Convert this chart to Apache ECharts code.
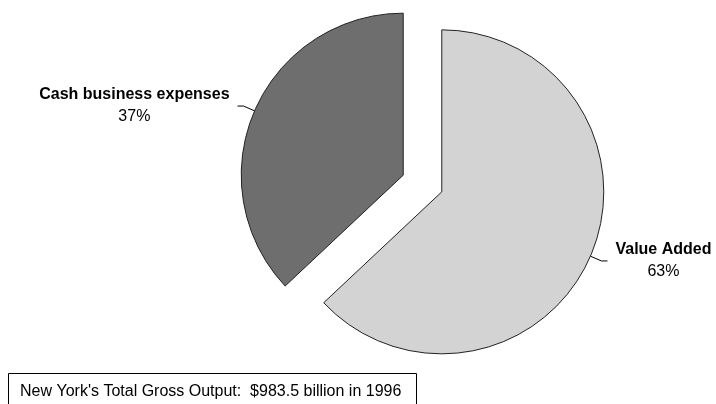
<!DOCTYPE html>
<html>
<head>
<meta charset="utf-8">
<script src="https://cdn.jsdelivr.net/npm/echarts@6/dist/echarts.min.js"></script>
<style>
html,body{margin:0;padding:0;background:#fff;}
#chart{width:716px;height:404px;}
</style>
</head>
<body>
<div id="chart"></div>
<script>
const categories = ['Value Added', 'Cash business expenses'];
const values = [63, 37];
const colors = ['#d3d3d3', '#6e6e6e'];
const noteText = "New York's Total Gross Output:  $983.5 billion in 1996";

const chart = echarts.init(document.getElementById('chart'), null, {renderer: 'canvas'});
const font = 'Arial, "Liberation Sans", Helvetica, sans-serif';

const data = categories.map((c, i) => ({
  name: c,
  value: values[i],
  selected: true,
  itemStyle: {color: colors[i]}
}));

chart.setOption({
  animation: false,
  backgroundColor: '#ffffff',
  series: [{
    type: 'pie',
    center: [422.5, 183.5],
    radius: [0, 162],
    startAngle: 90,
    clockwise: true,
    selectedMode: 'multiple',
    selectedOffset: 21,
    avoidLabelOverlap: false,
    emphasis: {disabled: true, scale: false},
    select: {itemStyle: {borderColor: '#222', borderWidth: 1}},
    itemStyle: {borderColor: '#222', borderWidth: 1},
    label: {
      show: true,
      position: 'outside',
      distanceToLabelLine: 8,
      fontFamily: font,
      formatter: function (p) { return '{n|' + p.name + '}\n{p|' + Math.round(p.percent) + '%}'; },
      rich: {
        n: {fontFamily: font, fontSize: 16, fontWeight: 'bold', color: '#000', align: 'center', lineHeight: 22},
        p: {fontFamily: font, fontSize: 16, color: '#000', align: 'center', lineHeight: 22}
      }
    },
    labelLine: {
      show: true,
      length: 12,
      length2: 6,
      smooth: false,
      lineStyle: {color: '#000', width: 1}
    },
    data: data
  }],
  graphic: [
    {
      type: 'rect',
      shape: {x: 8.5, y: 373.5, width: 408, height: 40},
      style: {fill: '#fff', stroke: '#000', lineWidth: 1}
    },
    {
      type: 'text',
      x: 20,
      y: 392,
      style: {text: noteText, font: '16px ' + font, fill: '#000', textVerticalAlign: 'middle'}
    }
  ]
});
</script>
</body>
</html>
